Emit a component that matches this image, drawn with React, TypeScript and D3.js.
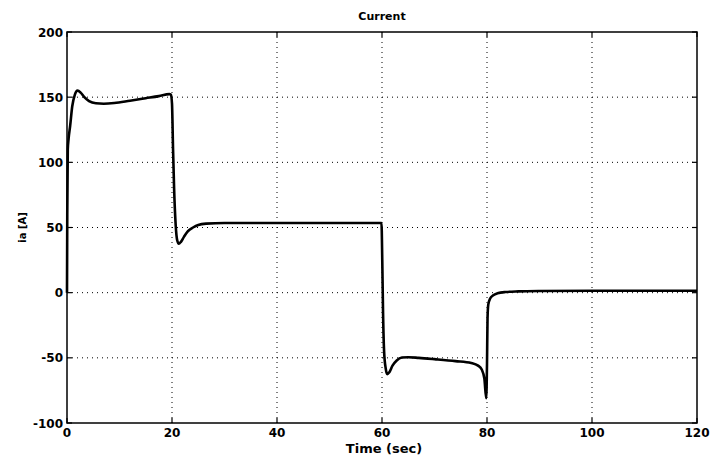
import React from "react";
import * as d3 from "d3";

const timeSec = [
  0, 0.05, 0.15, 0.3, 0.6, 1.0, 1.5, 2.0, 2.6, 3.3, 4.2, 5.5, 7, 9, 12, 15, 17.5, 19.5, 19.8,
  20.0, 20.2, 20.4, 20.7, 21.0, 21.3, 21.7, 22.3, 23, 24, 25, 26.5, 30, 40, 50, 59.9,
  60.05, 60.2, 60.4, 60.7, 61.0, 61.4, 62.0, 62.8, 63.8, 65, 67, 70, 74, 77, 78.3, 79.0, 79.5, 79.85,
  80.0, 80.1, 80.25, 80.6, 81.2, 82, 83.5, 86, 90, 100, 110, 120,
];
const currentA = [
  0, 60, 110, 118, 128, 143, 152, 155, 153.5, 150, 147, 145.3, 145, 145.5, 147.3, 149.2, 150.8, 152.3, 152,
  145, 110, 80, 52, 40, 37.5, 39, 43, 47, 50, 52, 53, 53.5, 53.5, 53.5, 53.5,
  25, -15, -45, -58, -62.5, -61, -56, -52, -49.8, -49.5, -50, -51, -52.5, -54, -56, -59, -66, -81,
  -55, -20, -9, -4.5, -2, -0.5, 0.5, 1, 1.3, 1.5, 1.5, 1.5,
];
const xTicks = [0, 20, 40, 60, 80, 100, 120];
const yTicks = [-100, -50, 0, 50, 100, 150, 200];

const W = 712;
const H = 463;
const m = { left: 67, top: 32, right: 697, bottom: 423 };
const font = "'DejaVu Sans', Verdana, sans-serif";

export default function App() {
  const x = d3.scaleLinear().domain([0, 120]).range([m.left, m.right]);
  const y = d3.scaleLinear().domain([-100, 200]).range([m.bottom, m.top]);
  const pts = timeSec.map((t, i) => [t, currentA[i]] as [number, number]);
  const line = d3
    .line<[number, number]>()
    .x((d) => x(d[0]))
    .y((d) => y(d[1]))
    .curve(d3.curveMonotoneX);
  const tl = 5;
  return (
    <svg
      width={W}
      height={H}
      style={{ position: "absolute", left: 0, top: 0, background: "#fff" }}
    >
      <rect x={0} y={0} width={W} height={H} fill="#fff" />
      {/* grid */}
      {xTicks.slice(1, -1).map((t) => (
        <line key={"gx" + t} x1={x(t)} x2={x(t)} y1={m.top} y2={m.bottom}
          stroke="#000" strokeWidth={1} strokeDasharray="1,4" />
      ))}
      {yTicks.slice(1, -1).map((t) => (
        <line key={"gy" + t} x1={m.left} x2={m.right} y1={y(t)} y2={y(t)}
          stroke="#000" strokeWidth={1} strokeDasharray="1,4" />
      ))}
      {/* ticks */}
      {xTicks.map((t) => (
        <g key={"tx" + t}>
          <line x1={x(t)} x2={x(t)} y1={m.bottom} y2={m.bottom - tl} stroke="#000" strokeWidth={1.2} />
          <line x1={x(t)} x2={x(t)} y1={m.top} y2={m.top + tl} stroke="#000" strokeWidth={1.2} />
          <text x={x(t)} y={m.bottom + 14} textAnchor="middle" fontFamily={font}
            fontWeight="bold" fontSize={12}>{t}</text>
        </g>
      ))}
      {yTicks.map((t) => (
        <g key={"ty" + t}>
          <line x1={m.left} x2={m.left + tl} y1={y(t)} y2={y(t)} stroke="#000" strokeWidth={1.2} />
          <line x1={m.right} x2={m.right - tl} y1={y(t)} y2={y(t)} stroke="#000" strokeWidth={1.2} />
          <text x={m.left - 4} y={y(t) + 4.5} textAnchor="end" fontFamily={font}
            fontWeight="bold" fontSize={12}>{t}</text>
        </g>
      ))}
      {/* frame */}
      <rect x={m.left} y={m.top} width={m.right - m.left} height={m.bottom - m.top}
        fill="none" stroke="#000" strokeWidth={1.5} />
      {/* curve */}
      <path d={line(pts) ?? ""} fill="none" stroke="#000" strokeWidth={2.6}
        strokeLinejoin="round" />
      {/* labels */}
      <text x={(m.left + m.right) / 2} y={20} textAnchor="middle" fontFamily={font}
        fontWeight="bold" fontSize={11}>Current</text>
      <text x={384} y={453} textAnchor="middle" fontFamily={font}
        fontWeight="bold" fontSize={13}>Time (sec)</text>
      <text transform={`translate(26, ${(m.top + m.bottom) / 2}) rotate(-90)`}
        textAnchor="middle" fontFamily={font} fontWeight="bold" fontSize={10}>ia [A]</text>
    </svg>
  );
}
